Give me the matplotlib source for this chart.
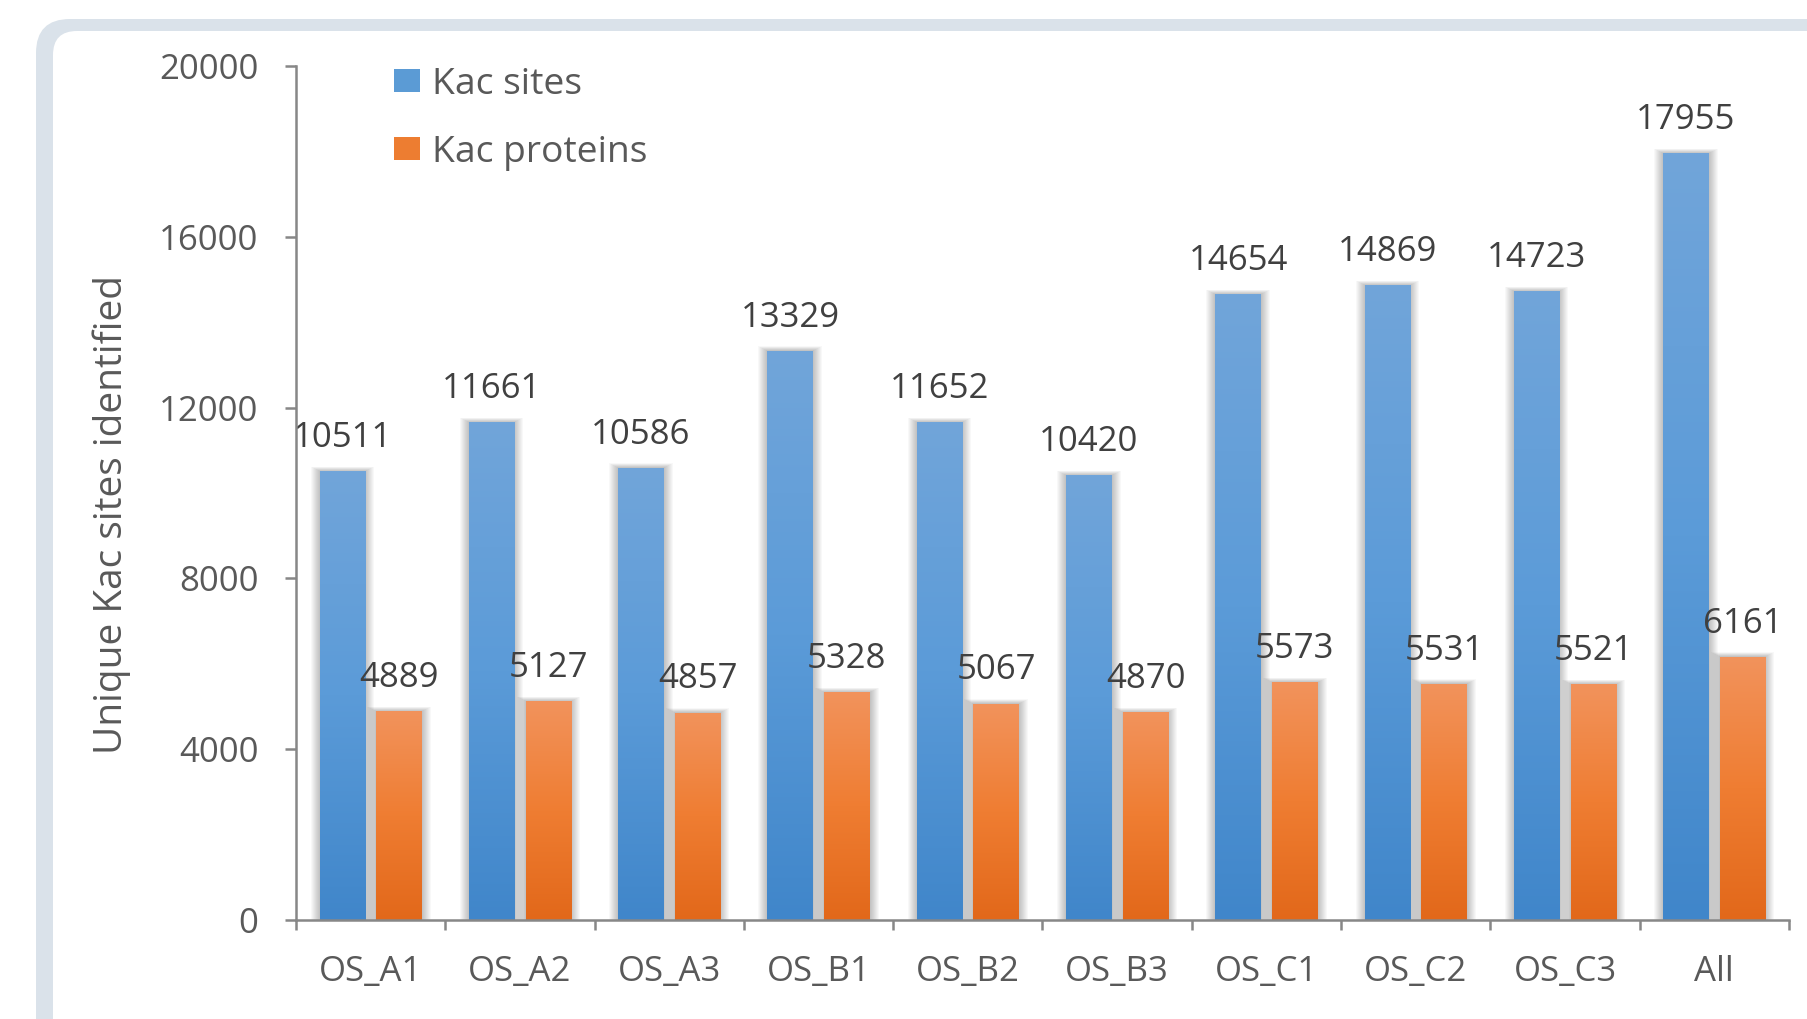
import numpy as np
import matplotlib
matplotlib.use("Agg")
import matplotlib.pyplot as plt
from matplotlib.patches import FancyBboxPatch, Rectangle
from matplotlib.colors import LinearSegmentedColormap

categories = ["OS_A1", "OS_A2", "OS_A3", "OS_B1", "OS_B2", "OS_B3",
              "OS_C1", "OS_C2", "OS_C3", "All"]
kac_sites = [10511, 11661, 10586, 13329, 11652, 10420, 14654, 14869, 14723, 17955]
kac_proteins = [4889, 5127, 4857, 5328, 5067, 4870, 5573, 5531, 5521, 6161]
series_names = ["Kac sites", "Kac proteins"]
y_ticks = [0, 4000, 8000, 12000, 16000, 20000]
y_label = "Unique Kac sites identified"

FONT = "Open Sans"
TXT = "#595959"
LBL = "#404040"
AXC = "#878787"
W, H, DPI = 1808, 1019, 100
FS = 25

fig = plt.figure(figsize=(W / DPI, H / DPI), dpi=DPI)
fig.patch.set_facecolor("white")

# background frame
bg = fig.add_axes([0, 0, 1, 1], zorder=-5)
bg.set_xlim(0, W)
bg.set_ylim(H, 0)
bg.axis("off")
bg.add_patch(FancyBboxPatch((36, 19), 2200, 1300,
                            boxstyle="round,pad=0,rounding_size=34",
                            fc="#dae2ea", ec="none"))
bg.add_patch(FancyBboxPatch((53, 31), 2200, 1300,
                            boxstyle="round,pad=0,rounding_size=24",
                            fc="white", ec="none"))

ax = fig.add_axes([296 / W, 1 - 920 / H, (1789 - 296) / W, (920 - 66) / H])
ax.patch.set_alpha(0)
x = np.arange(len(categories))
bw = 0.305
off = 0.19
ax.set_xlim(-0.5, len(categories) - 0.5)
ax.set_ylim(0, 20000)

px_x = 1.0 / ((1789 - 296) / len(categories))
px_y = 20000 / (920 - 66)

cm_blue = LinearSegmentedColormap.from_list("b", ["#4086ca", "#5b9bd8", "#71a5da"])
cm_or = LinearSegmentedColormap.from_list("o", ["#e2681a", "#ef7d32", "#f2935c"])
grad = np.linspace(0, 1, 256).reshape(-1, 1)

handles = []
for vals, sgn, cmap, mid, name in [(kac_sites, -1, cm_blue, "#5b9bd5", series_names[0]),
                                   (kac_proteins, 1, cm_or, "#ed7d31", series_names[1])]:
    xs = x + sgn * off
    # soft shadows
    for k in range(1, 10):
        for xi, v in zip(xs, vals):
            ax.add_patch(Rectangle((xi - bw / 2 - k * px_x, 0),
                                   bw + 2 * k * px_x, v + k * px_y * 0.5,
                                   fc="black", ec="none", alpha=0.026, zorder=1))
    bars = ax.bar(xs, vals, width=bw, color=mid, zorder=2, label=name)
    handles.append(Rectangle((0, 0), 1, 1, fc=mid, ec="none"))
    for b, xi, v in zip(bars, xs, vals):
        im = ax.imshow(grad, cmap=cmap, origin="lower", aspect="auto",
                       extent=[xi - bw / 2, xi + bw / 2, 0, v], zorder=3,
                       interpolation="bilinear")
        im.set_clip_path(b)
        ax.annotate(f"{v}", (xi, v), xytext=(0, 17.5), textcoords="offset points",
                    ha="center", va="baseline", fontsize=FS, color=LBL,
                    family=FONT, zorder=5)

ax.set_xlim(-0.5, len(categories) - 0.5)
ax.set_ylim(0, 20000)

for s in ["top", "right"]:
    ax.spines[s].set_visible(False)
for s in ["left", "bottom"]:
    ax.spines[s].set_color(AXC)
    ax.spines[s].set_linewidth(1.8)
    ax.spines[s].set_zorder(6)

ax.set_yticks(y_ticks)
ax.set_yticklabels([str(t) for t in y_ticks])
ax.tick_params(axis="y", direction="out", length=8, width=1.8, color=AXC,
               pad=19, labelsize=FS, labelcolor=TXT)
ax.set_xticks(x)
ax.set_xticklabels(categories)
ax.set_xticks(np.arange(-0.5, len(categories)), minor=True)
ax.tick_params(axis="x", which="major", length=0, pad=25, labelsize=FS, labelcolor=TXT)
ax.tick_params(axis="x", which="minor", direction="out", length=7.5, width=1.8, color=AXC)
for lab in ax.get_xticklabels() + ax.get_yticklabels():
    lab.set_family(FONT)

fig.text(112 / W, 1 - 515 / H, y_label, rotation=90, ha="center", va="center",
         fontsize=28, color=TXT, family=FONT)

leg = ax.legend(handles, series_names, loc="upper left",
                bbox_to_anchor=(394 / W, 1 - 67 / H), bbox_transform=fig.transFigure,
                frameon=False, borderpad=0, borderaxespad=0,
                handlelength=0.7, handleheight=0.58, handletextpad=0.32,
                labelspacing=0.86, prop={"family": FONT, "size": 26.8})
for t in leg.get_texts():
    t.set_color(TXT)

fig.savefig("out.png", dpi=DPI, facecolor="white")
